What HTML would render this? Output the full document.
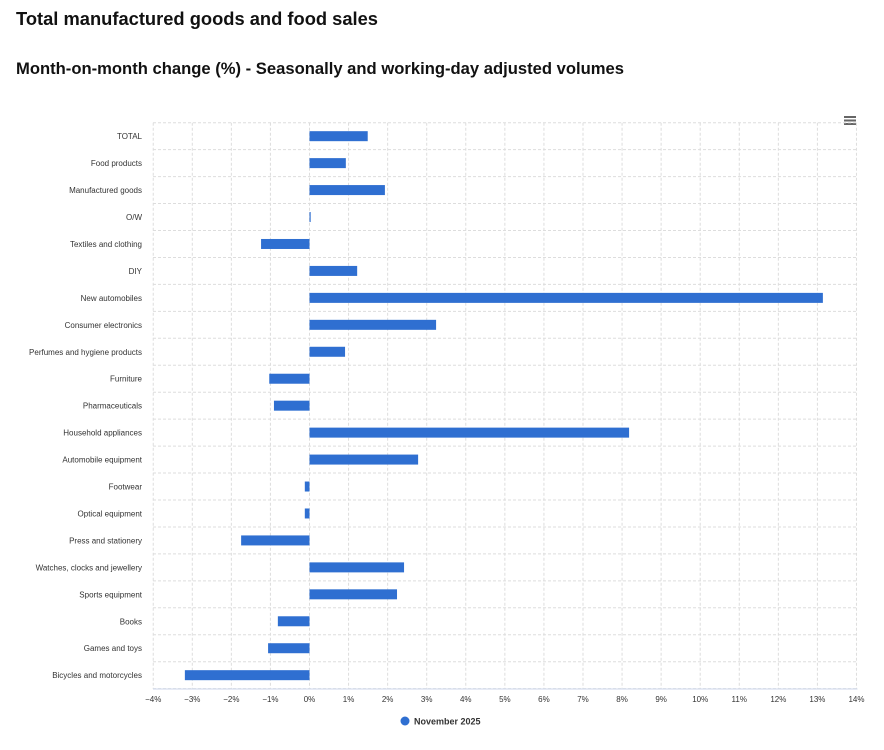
<!DOCTYPE html>
<html><head><meta charset="utf-8"><style>
body{margin:0;background:#fff;width:884px;height:745px;overflow:hidden;font-family:"Liberation Sans",sans-serif}
</style></head><body>
<svg width="884" height="745" xmlns="http://www.w3.org/2000/svg" font-family="Liberation Sans, sans-serif">
<text x="16" y="25" font-size="18" fill="#111" font-weight="bold" textLength="362" lengthAdjust="spacingAndGlyphs">Total manufactured goods and food sales</text>
<text x="16" y="74" font-size="16.5" fill="#111" font-weight="bold" textLength="608" lengthAdjust="spacingAndGlyphs">Month-on-month change (%) - Seasonally and working-day adjusted volumes</text>
<g fill="#666"><rect x="844" y="116" width="12" height="2"/><rect x="844" y="119.5" width="12" height="2"/><rect x="844" y="123" width="12" height="2"/></g>
<g id="grid" stroke="#ddd" stroke-dasharray="3,2" stroke-width="1"></g>
<g id="bars" fill="#2f6fd1"></g>
<g id="labels" font-size="8" fill="#333"></g>
<circle cx="405" cy="721" r="4.5" fill="#2f6fd1"/>
<text x="414" y="724.5" font-size="9" font-weight="bold" fill="#333">November 2025</text>
</svg>
<script>
const ns="http://www.w3.org/2000/svg";
const X0=309.5,S=39.07,T=122.7,R=26.95,L=153,RT=857.5,B=689;
const g=document.getElementById('grid'),b=document.getElementById('bars'),lb=document.getElementById('labels');
function el(p,t,a){const e=document.createElementNS(ns,t);for(const k in a)e.setAttribute(k,a[k]);p.appendChild(e);return e;}
for(let i=-4;i<=14;i++){const x=X0+i*S;el(g,'line',{x1:x,y1:T,x2:x,y2:B});
const t=el(lb,'text',{x:x,y:B+13,'text-anchor':'middle'});t.textContent=(i<0?'\u2212'+(-i):i)+'%';}
for(let j=0;j<=21;j++){const y=T+j*R;el(g,'line',{x1:L,y1:y,x2:RT,y2:y});}
el(g,'line',{x1:L,y1:B,x2:RT,y2:B,stroke:'#ccd6eb','stroke-dasharray':'none'});
const d=[["TOTAL",1.49],["Food products",0.93],["Manufactured goods",1.93],["O/W",0.03],["Textiles and clothing",-1.24],["DIY",1.22],["New automobiles",13.14],["Consumer electronics",3.24],["Perfumes and hygiene products",0.91],["Furniture",-1.03],["Pharmaceuticals",-0.91],["Household appliances",8.18],["Automobile equipment",2.78],["Footwear",-0.12],["Optical equipment",-0.12],["Press and stationery",-1.75],["Watches, clocks and jewellery",2.42],["Sports equipment",2.24],["Books",-0.81],["Games and toys",-1.06],["Bicycles and motorcycles",-3.19]];
d.forEach((r,i)=>{const cy=T+R*(i+0.5);const x1=X0+Math.min(0,r[1])*S,w=Math.abs(r[1])*S;
el(b,'rect',{x:x1,y:cy-5,width:Math.max(w,1),height:10});
const t=el(lb,'text',{x:142,y:cy+3,'text-anchor':'end'});t.textContent=r[0];});
</script>
</body></html>
